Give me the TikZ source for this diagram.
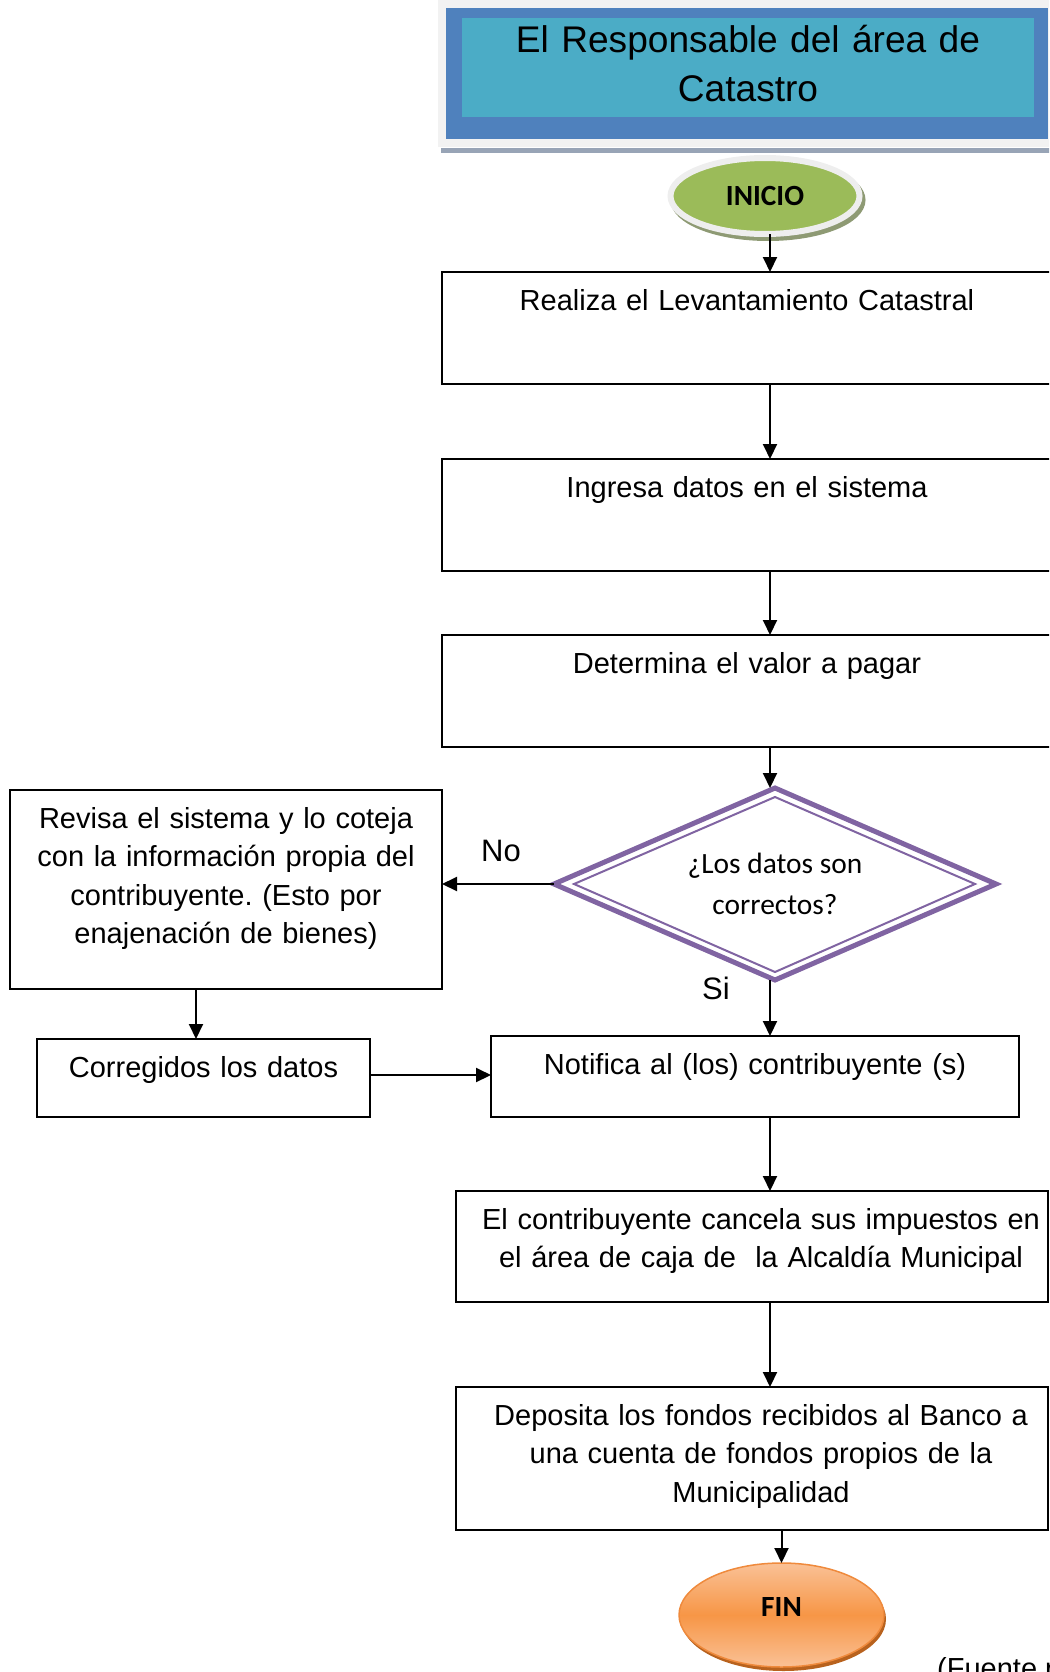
\documentclass[tikz,border=0pt]{standalone}
\usepackage{fontspec}
\setmainfont{Liberation Sans}
\newfontfamily\calibri{Carlito}
\frenchspacing
\usepackage{tikz}
\usetikzlibrary{shapes.geometric,arrows.meta}
\definecolor{marco}{HTML}{F2F2F2}
\definecolor{raya}{HTML}{98A4B6}
\definecolor{cabecera}{HTML}{4F81BD}
\definecolor{turquesa}{HTML}{4BACC6}
\definecolor{verde}{HTML}{9BBB59}
\definecolor{anillo}{HTML}{EEEEEE}
\definecolor{sombraverde}{HTML}{8E9A74}
\definecolor{morado}{HTML}{8064A2}
\definecolor{naranja}{HTML}{F79646}
\definecolor{naranjaclaro}{HTML}{FAC196}
\definecolor{naranjaborde}{HTML}{EF8A3C}
\definecolor{sombranaranja}{HTML}{B8621E}

\begin{document}
\begin{tikzpicture}[x=1pt, y=-1pt, >={Triangle[length=15pt,width=14pt]},
    caja/.style={draw, line width=2pt, anchor=north, outer sep=0pt, align=center,
        text width=#1, inner xsep=4pt, inner ysep=17pt, text height=21pt,
        font=\fontsize{29}{38.5}\selectfont},
    corrida/.style={execute at begin node={\leftskip=18pt plus 1fil\rightskip=0pt plus 1fil\parfillskip=0pt}},
    flecha/.style={->, line width=2pt},
    etiqueta/.style={font=\fontsize{31}{36}\selectfont}]
    \useasboundingbox (0,0) rectangle (1049,1672);
    \clip (0,0) rectangle (1049,1672);
    \coordinate (eje) at (770,0);
    \coordinate (bajada) at (196,0);
    % cabecera
    \fill[marco] (438,0) rectangle (1060,147);
    \draw[raya, line width=5pt] (441,150.5) -- (1060,150.5);
    \fill[cabecera] (446,8) rectangle (1048,139);
    \node[fill=turquesa, anchor=north, outer sep=0pt, inner xsep=0pt, inner ysep=7.25pt,
        text width=572pt, align=center, text height=27pt, text depth=57.5pt,
        font=\fontsize{37.1}{49}\selectfont] (titulo) at (748,18) {El Responsable del área de\\Catastro};
    % inicio y fin
    \node[ellipse, minimum width=189pt, minimum height=76pt, inner sep=0pt, outer sep=0pt,
        fill=verde, draw=anillo, line width=6pt,
        preaction={draw=sombraverde, fill=sombraverde, transform canvas={shift={(3pt,-4pt)}}},
        font=\calibri\bfseries\fontsize{29.3}{35}\selectfont] (inicio) at (765,196) {INICIO};
    \node[ellipse, minimum width=205pt, minimum height=104pt, inner sep=0pt, outer sep=0pt,
        draw=naranjaborde, line width=1.5pt, top color=naranjaclaro, bottom color=naranjaclaro, middle color=naranja,
        preaction={fill=sombranaranja, transform canvas={shift={(2pt,-4pt)}}},
        text depth=16pt, font=\calibri\bfseries\fontsize{29.3}{35}\selectfont] (fin) at (781.5,1615) {FIN};
    % pasos
    \node[caja=602pt, text depth=57pt] (levanta) at (747,272) {Realiza el Levantamiento Catastral};
    \node[caja=602pt, text depth=57pt] (ingresa) at (747,459) {Ingresa datos en el sistema};
    \node[caja=602pt, text depth=57pt] (valor) at (747,635) {Determina el valor a pagar};
    \node[diamond, aspect=2.3, minimum width=442pt, minimum height=192pt, inner sep=0pt, outer sep=0pt,
        draw=morado, line width=5pt, align=center,
        font=\calibri\fontsize{29.4}{41.6}\selectfont] (datos) at (775,884) {¿Los datos son\\correctos?};
    \draw[morado, line width=2pt] ([yshift=-9pt]datos.north) -- ([xshift=20pt]datos.west)
        -- ([yshift=8pt]datos.south) -- ([xshift=-21pt]datos.east) -- cycle;
    \node[caja=424pt, text depth=144pt] (revisa) at (226,790) {Revisa el sistema y lo coteja\\con la información propia del\\contribuyente. (Esto por\\enajenación de bienes)};
    \node[caja=325pt, text depth=23pt] (corrige) at (203.5,1039) {Corregidos los datos};
    \node[caja=520pt, text depth=26pt] (notifica) at (755,1036) {Notifica al (los) contribuyente (s)};
    \node[caja=584pt, corrida, text depth=56pt] (cancela) at (752,1191) {El contribuyente cancela sus impuestos en\\el área de caja de\ \ la Alcaldía Municipal};
    \node[caja=584pt, corrida, text depth=88pt] (deposita) at (752,1387) {Deposita los fondos recibidos al Banco a\\una cuenta de fondos propios de la\\Municipalidad};
    \node[etiqueta] (no) at (501,851) {No};
    \node[etiqueta] (si) at (716,988) {Si};
    \node[anchor=base west, inner sep=0pt, font=\fontsize{29}{35}\selectfont] (fuente) at (937,1678) {(Fuente propia)};
    % flechas
    \draw[flecha] (inicio.south -| eje) -- (levanta.north -| eje);
    \draw[flecha] (levanta.south -| eje) -- (ingresa.north -| eje);
    \draw[flecha] (ingresa.south -| eje) -- (valor.north -| eje);
    \draw[flecha] (valor.south -| eje) -- (datos.north -| eje);
    \draw[flecha] (datos.west) -- (datos.west -| revisa.east);
    \draw[flecha] (datos.south -| eje) -- (notifica.north -| eje);
    \draw[flecha] (revisa.south -| bajada) -- (corrige.north -| bajada);
    \draw[flecha] ([yshift=3pt]corrige.east) -- ([yshift=3pt]corrige.east -| notifica.west);
    \draw[flecha] (notifica.south -| eje) -- (cancela.north -| eje);
    \draw[flecha] (cancela.south -| eje) -- (deposita.north -| eje);
    \draw[flecha] (deposita.south -| fin.north) -- (fin.north);
\end{tikzpicture}
\end{document}
